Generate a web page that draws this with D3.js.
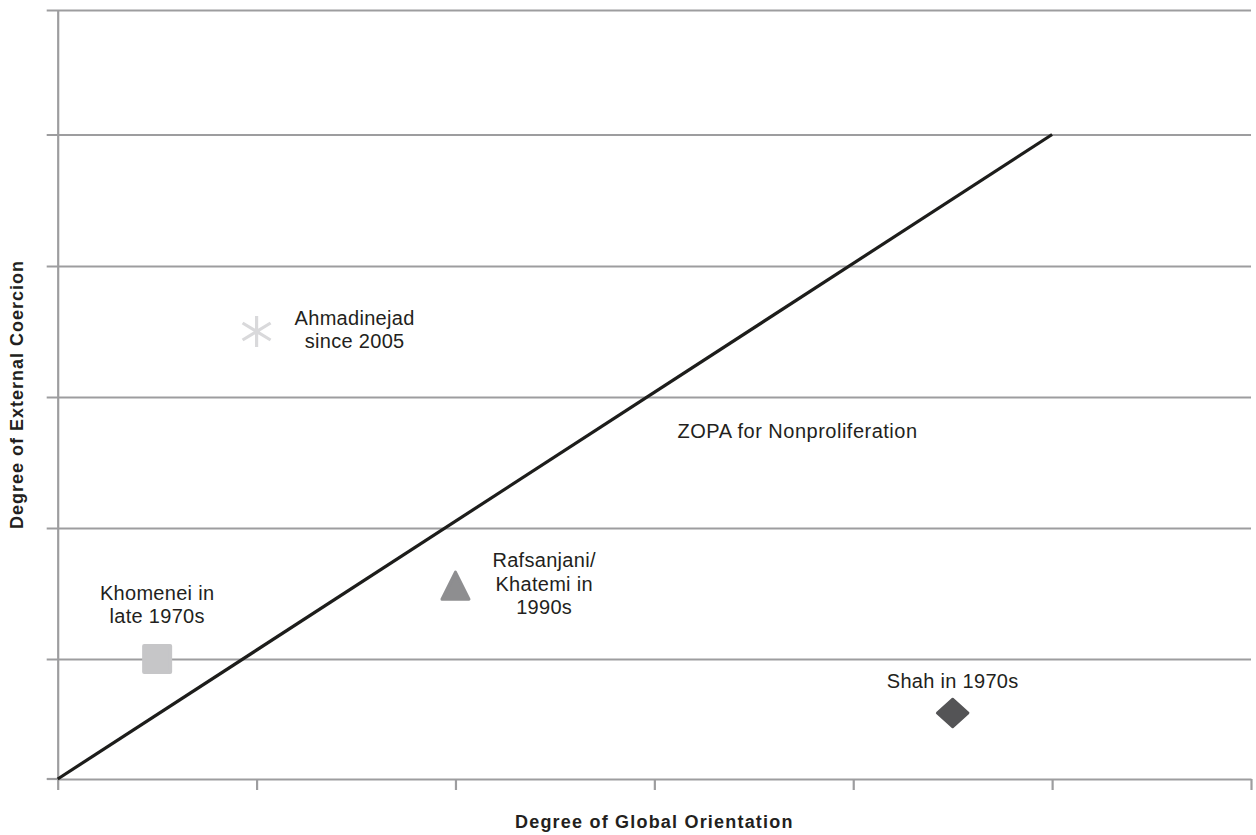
<!DOCTYPE html>
<html>
<head>
<meta charset="utf-8">
<script src="https://cdn.jsdelivr.net/npm/d3@7"></script>
<style>
  html, body { margin: 0; padding: 0; background: #fff; }
  svg { display: block; }
  text { font-family: "Liberation Sans", Arial, Helvetica, sans-serif; fill: #231f20; }
</style>
</head>
<body>
<svg id="chart" width="1256" height="835"></svg>
<script>
// ---- data ----
const categories = ["Khomenei", "Ahmadinejad", "Rafsanjani", "Shah"];
const labelLines = [
  ["Khomenei in", "late 1970s"],
  ["Ahmadinejad", "since 2005"],
  ["Rafsanjani/", "Khatemi in", "1990s"],
  ["Shah in 1970s"]
];
const xValues = [0.5, 1, 2, 4.5];
const yValues = [1, 3.5, 1.56, 0.55];
const markerTypes = ["square", "asterisk", "triangle", "diamond"];

const zopaX = [0, 5];
const zopaY = [0, 5];
const zopaLabel = "ZOPA for Nonproliferation";
const zopaLabelPos = [3.72, 2.72];

const xTicks = [0, 1, 2, 3, 4, 5, 6];
const yTicks = [0, 1, 2, 3, 4, 5, 6];
const xTitle = "Degree of Global Orientation";
const yTitle = "Degree of External Coercion";

// ---- layout ----
const labelPlacement = ["above", "right", "right", "above"];
const labelGap = [36, 38, 37, 25.5];   // px between marker and label block
const svg = d3.select("#chart");
const x = d3.scaleLinear().domain([0, 6]).range([57.7, 1251]);
const y = d3.scaleLinear().domain(yTicks).range([779, 659, 528, 397, 266, 134.5, 10]);
const gridColor = "#9d9d9f";

// gridlines / y axis
const yAxis = svg.append("g")
  .attr("transform", `translate(${x(0)},0)`)
  .call(d3.axisLeft(y).tickValues(yTicks.filter(d => d > 0)).tickSizeInner(-(x(6) - x(0))).tickSizeOuter(0).tickFormat(""));
yAxis.selectAll(".tick line").attr("x1", -11).attr("stroke", gridColor).attr("stroke-width", 2.2);
yAxis.select(".domain").attr("stroke", gridColor).attr("stroke-width", 2.2);

// x axis
const xAxis = svg.append("g")
  .attr("transform", `translate(0,${y(0)})`)
  .call(d3.axisBottom(x).tickValues(xTicks).tickSizeInner(11).tickSizeOuter(0).tickFormat(""));
xAxis.selectAll(".tick line").attr("stroke", gridColor).attr("stroke-width", 2.2);
xAxis.select(".domain").attr("stroke", gridColor).attr("stroke-width", 2.2);
svg.append("line").attr("x1", x(0) - 11).attr("x2", x(0)).attr("y1", y(0)).attr("y2", y(0))
  .attr("stroke", gridColor).attr("stroke-width", 2.2);

// ZOPA line
svg.append("path")
  .datum(d3.zip(zopaX, zopaY))
  .attr("d", d3.line().x(d => x(d[0])).y(d => y(d[1])))
  .attr("fill", "none").attr("stroke", "#1d1d1b").attr("stroke-width", 3.2);

// markers
const markerStyle = {
  square:   { fill: "#c6c6c8", d: "M-13,-13L13,-13L13,13L-13,13Z", sw: 4 },
  triangle: { fill: "#8e8e90", d: "M0,-13.5L13.5,13.5L-13.5,13.5Z", sw: 3 },
  diamond:  { fill: "#545456", d: "M0,-14L15.5,0L0,14L-15.5,0Z", sw: 2.5 },
  asterisk: { fill: "none", d: "M0,-15.5L0,15.5M-14,-8.5L14,8.5M-14,8.5L14,-8.5", sw: 3.2 }
};
const pts = categories.map((c, i) => ({ c, x: xValues[i], y: yValues[i], m: markerTypes[i],
  lines: labelLines[i], pos: labelPlacement[i], gap: labelGap[i] }));

svg.append("g").selectAll("path").data(pts).join("path")
  .attr("transform", d => `translate(${x(d.x)},${y(d.y)})`)
  .attr("d", d => markerStyle[d.m].d)
  .attr("fill", d => markerStyle[d.m].fill)
  .attr("stroke", d => d.m === "asterisk" ? "#d9d9db" : markerStyle[d.m].fill)
  .attr("stroke-width", d => markerStyle[d.m].sw)
  .attr("stroke-linejoin", "round");

// labels
const fs = 20, lh = 23.5;
const labels = svg.append("g").selectAll("text").data(pts).join("text")
  .attr("font-size", fs)
  .attr("text-anchor", "middle")
  .attr("letter-spacing", 0.3);
labels.each(function(d) {
  const t = d3.select(this);
  const n = d.lines.length;
  const spans = d.lines.map(s => t.append("tspan").text(s));
  const widest = d3.max(spans, s => s.node().getComputedTextLength());
  let cx, firstBase;
  if (d.pos === "above") {
    cx = x(d.x);
    firstBase = y(d.y) - d.gap - (n - 1) * lh;
  } else {
    cx = x(d.x) + d.gap + widest / 2;
    firstBase = y(d.y) + 5 - (n - 1) * lh / 2;
  }
  spans.forEach((s, k) => s.attr("x", cx).attr("y", firstBase + k * lh));
});

svg.append("text")
  .attr("x", x(zopaLabelPos[0])).attr("y", y(zopaLabelPos[1]) + 4)
  .attr("text-anchor", "middle").attr("font-size", fs).attr("letter-spacing", 0.5)
  .text(zopaLabel);

// axis titles
svg.append("text")
  .attr("x", (x(0) + x(6)) / 2).attr("y", 828)
  .attr("text-anchor", "middle").attr("font-size", 18).attr("font-weight", "bold").attr("letter-spacing", 1.2)
  .text(xTitle);
svg.append("text")
  .attr("transform", `translate(23,${(y(0) + y(6)) / 2}) rotate(-90)`)
  .attr("text-anchor", "middle").attr("font-size", 18).attr("font-weight", "bold").attr("letter-spacing", 1)
  .text(yTitle);
</script>
</body>
</html>
